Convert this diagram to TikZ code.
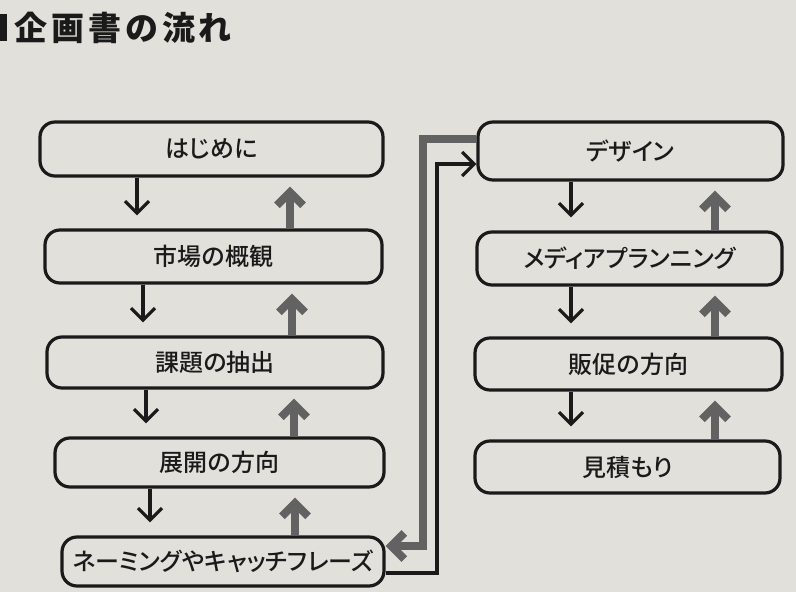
\documentclass[tikz,border=0pt]{standalone}
\usepackage{fontspec}
\setmainfont{Noto Sans CJK JP}[UprightFont={* Medium}, RawFeature=+palt]
\newfontfamily\titlefont{Noto Sans CJK JP}[LetterSpace=12]
\usetikzlibrary{arrows.meta}
\definecolor{paper}{HTML}{E2E0DA}
\definecolor{ink}{HTML}{1A1A1A}
\definecolor{grayarr}{HTML}{626262}
\begin{document}
\begin{tikzpicture}[x=1pt,y=-1pt,
  box/.style={draw=ink, line width=3.2pt, rounded corners=15pt, inner sep=0pt,
    font=\fontsize{24}{28}\selectfont, text=ink},
  fwd/.style={draw=ink, line width=3.2pt, miter limit=20,
    -{Straight Barb[length=12pt,width=24pt]}},
  back/.style={draw=grayarr, line width=8pt, miter limit=20,
    -{Straight Barb[length=13pt,width=26pt]}}]
\fill[paper] (0,0) rectangle (796,592);
\useasboundingbox (0,0) rectangle (796,592);
% title
\fill[ink] (0,14) rectangle (7,41);
\node[anchor=west, inner sep=0pt, text=ink, font=\titlefont\bfseries\fontsize{33}{36}\selectfont] (title) at (14,28) {企画書の流れ};
% left column
\node[box, minimum width=343pt, minimum height=54pt] (L1) at (211.5,149) {はじめに};
\node[box, minimum width=337pt, minimum height=53pt] (L2) at (213.5,256.5) {市場の概観};
\node[box, minimum width=336pt, minimum height=51pt] (L3) at (215,362.5) {課題の抽出};
\node[box, minimum width=329pt, minimum height=49pt] (L4) at (219.5,462.5) {展開の方向};
\node[box, minimum width=322pt, minimum height=49pt] (L5) at (223,561.5) {ネーミングやキャッチフレーズ};
% right column
\node[box, minimum width=305pt, minimum height=58pt] (R1) at (630.5,151) {デザイン};
\node[box, minimum width=305pt, minimum height=53pt] (R2) at (629.5,258.5) {メディアプランニング};
\node[box, minimum width=307pt, minimum height=52pt] (R3) at (628.5,364) {販促の方向};
\node[box, minimum width=305pt, minimum height=52pt] (R4) at (627.5,467) {見積もり};
% arrow columns
\coordinate (b1) at (137,0); \coordinate (b2) at (143,0);
\coordinate (b3) at (146,0); \coordinate (b4) at (150,0);
\coordinate (h1) at (290,0); \coordinate (h2) at (292,0);
\coordinate (h3) at (294,0); \coordinate (h4) at (295,0);
\coordinate (rb) at (571,0); \coordinate (rh) at (715,0);
% left forward arrows
\draw[fwd] (L1.south -| b1) -- ([yshift=13pt]L2.north -| b1);
\draw[fwd] (L2.south -| b2) -- ([yshift=13pt]L3.north -| b2);
\draw[fwd] (L3.south -| b3) -- ([yshift=13pt]L4.north -| b3);
\draw[fwd] (L4.south -| b4) -- ([yshift=13pt]L5.north -| b4);
% left back arrows
\draw[back] (L2.north -| h1) -- ([yshift=-9pt]L1.south -| h1);
\draw[back] (L3.north -| h2) -- ([yshift=-9pt]L2.south -| h2);
\draw[back] (L4.north -| h3) -- ([yshift=-9pt]L3.south -| h3);
\draw[back] (L5.north -| h4) -- ([yshift=-9pt]L4.south -| h4);
% right forward arrows
\draw[fwd] (R1.south -| rb) -- ([yshift=13pt]R2.north -| rb);
\draw[fwd] (R2.south -| rb) -- ([yshift=13pt]R3.north -| rb);
\draw[fwd] (R3.south -| rb) -- ([yshift=13pt]R4.north -| rb);
% right back arrows
\draw[back] (R2.north -| rh) -- ([yshift=-9pt]R1.south -| rh);
\draw[back] (R3.north -| rh) -- ([yshift=-9pt]R2.south -| rh);
\draw[back] (R4.north -| rh) -- ([yshift=-9pt]R3.south -| rh);
% cross connectors
\coordinate (k1) at (437,573); \coordinate (k2) at (437,164);
\draw[fwd] (L5.east |- k1) -- (k1) -- (k2) -- (R1.west |- k2);
\coordinate (g1) at (423,139); \coordinate (g2) at (423,546);
\draw[back] (R1.west |- g1) -- (g1) -- (g2) -- (L5.east |- g2);
\end{tikzpicture}
\end{document}
